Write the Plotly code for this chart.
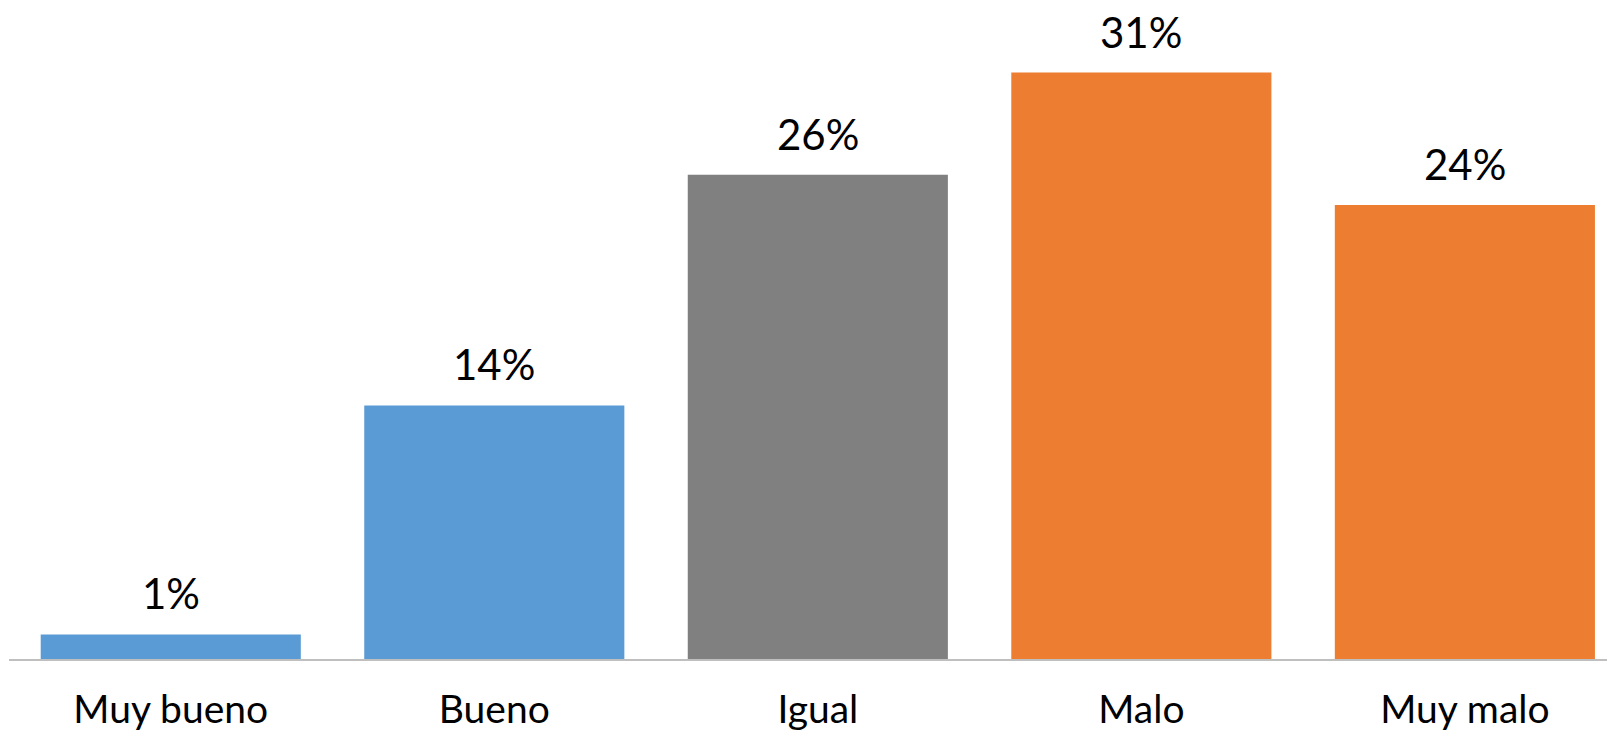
import plotly.graph_objects as go

# values (labels are rounded percentages)
categories = ["Muy bueno", "Bueno", "Igual", "Malo", "Muy malo"]
values = [1.3, 13.4, 25.6, 31.0, 24.0]
labels = ["1%", "14%", "26%", "31%", "24%"]
colors = ["#5B9BD5", "#5B9BD5", "#808080", "#ED7D31", "#ED7D31"]

FONT = "Lato, 'Open Sans', sans-serif"

fig = go.Figure()
fig.add_trace(go.Bar(
    x=categories,
    y=values,
    marker=dict(color=colors, line=dict(width=0)),
    hoverinfo="skip",
))

# data labels above each bar
for cat, val, lab in zip(categories, values, labels):
    fig.add_annotation(
        x=cat, y=val, text=lab, showarrow=False,
        yanchor="bottom", yshift=14,
        font=dict(family=FONT, size=42, color="#000000"),
    )

# the page body adds a small margin, so the figure is a bit smaller
fig.update_layout(
    width=1607, height=727,
    margin=dict(l=1, r=0, t=0, b=76),
    paper_bgcolor="white",
    plot_bgcolor="white",
    bargap=0.196,
    showlegend=False,
    font=dict(family=FONT, size=42, color="#000000"),
)
fig.update_xaxes(
    range=[-0.5, 4.464],
    showline=True, linecolor="#BFBFBF", linewidth=1.5,
    showgrid=False, ticks="", ticklabelstandoff=15,
    tickfont=dict(family=FONT, size=39, color="#000000"),
)
fig.update_yaxes(
    range=[0, 34.41],
    visible=False, showgrid=False, zeroline=False,
)

fig.write_html("out.html")
